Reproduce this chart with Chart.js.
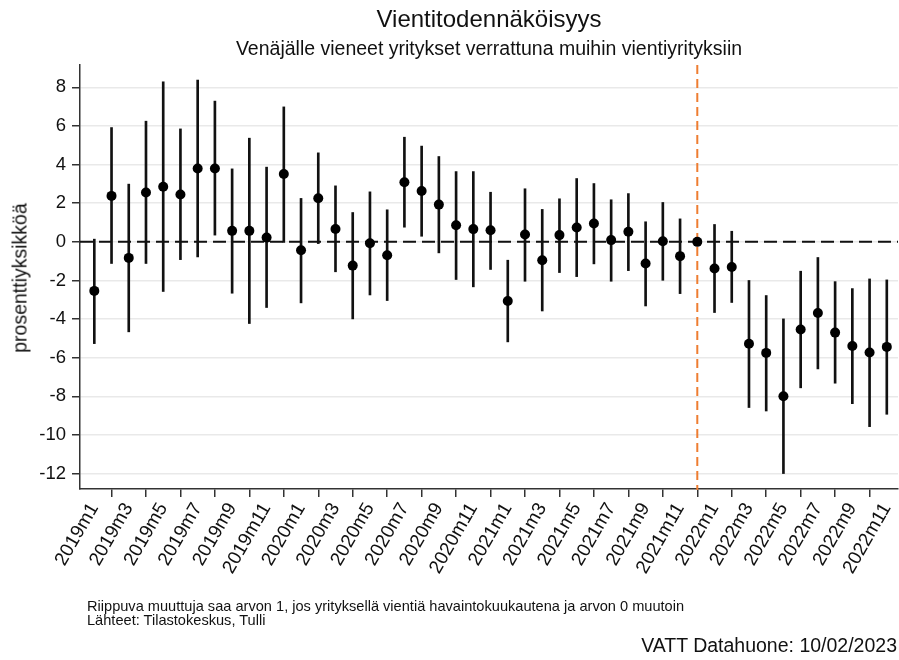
<!DOCTYPE html>
<html>
<head>
<meta charset="utf-8">
<script src="https://cdn.jsdelivr.net/npm/chart.js@4.4.1/dist/chart.umd.min.js"></script>
<style>
  html, body { margin: 0; padding: 0; background: #fff; }
  #wrap { position: relative; width: 899px; height: 660px; font-family: "Liberation Sans", Arial, sans-serif; color: #111; }
  canvas { position: absolute; left: 0; top: 0; }
  .t { position: absolute; white-space: nowrap; }
  #title { left: 489px; top: 19px; font-size: 24px; transform: translate(-50%, -50%); }
  #subtitle { left: 489px; top: 48px; font-size: 19.5px; transform: translate(-50%, -50%); }
  #ytitle { left: 20px; top: 278px; font-size: 19.5px; transform: translate(-50%, -50%); transform: translate(-50%, -50%) rotate(-90deg); }
  #note1 { left: 87px; top: 600px; font-size: 14.6px; line-height: 13.5px; }
  #vatt { right: 2px; top: 645px; font-size: 19.5px; transform: translateY(-50%); }
</style>
</head>
<body>
<div id="wrap">
  <canvas id="c" width="899" height="660"></canvas>
  <div class="t" id="title">Vientitodennäköisyys</div>
  <div class="t" id="subtitle">Venäjälle vieneet yritykset verrattuna muihin vientiyrityksiin</div>
  <div class="t" id="ytitle">prosenttiyksikköä</div>
  <div class="t" id="note1">Riippuva muuttuja saa arvon 1, jos yrityksellä vientiä havaintokuukautena ja arvon 0 muutoin<br>Lähteet: Tilastokeskus, Tulli</div>
  <div class="t" id="vatt">VATT Datahuone: 10/02/2023</div>
</div>
<script>
const months = [
  '2019m1','2019m2','2019m3','2019m4','2019m5','2019m6','2019m7','2019m8','2019m9','2019m10','2019m11','2019m12',
  '2020m1','2020m2','2020m3','2020m4','2020m5','2020m6','2020m7','2020m8','2020m9','2020m10','2020m11','2020m12',
  '2021m1','2021m2','2021m3','2021m4','2021m5','2021m6','2021m7','2021m8','2021m9','2021m10','2021m11','2021m12',
  '2022m1','2022m2','2022m3','2022m4','2022m5','2022m6','2022m7','2022m8','2022m9','2022m10','2022m11'
];
const estimate = [
  -2.54, 2.38, -0.83, 2.56, 2.85, 2.45, 3.80, 3.80, 0.57, 0.57, 0.22, 3.51,
  -0.43, 2.26, 0.67, -1.23, -0.07, -0.69, 3.09, 2.63, 1.93, 0.86, 0.66, 0.60,
  -3.06, 0.38, -0.95, 0.35, 0.74, 0.95, 0.09, 0.52, -1.12, 0.03, -0.74, 0.00,
  -1.38, -1.30, -5.28, -5.75, -8.00, -4.54, -3.68, -4.70, -5.39, -5.73, -5.44
];
const ciLow = [
  -5.27, -1.12, -4.66, -1.12, -2.57, -0.92, -0.78, 0.35, -2.66, -4.23, -3.40, -0.03,
  -3.16, -0.09, -1.55, -3.99, -2.75, -3.04, 0.76, 0.29, -0.57, -1.95, -2.33, -1.43,
  -5.18, -2.04, -3.58, -1.59, -1.80, -1.14, -2.04, -1.49, -3.32, -1.99, -2.68, null,
  -3.66, -3.14, -8.58, -8.76, -12.00, -7.56, -6.58, -7.32, -8.38, -9.57, -8.93
];
const ciHigh = [
  0.14, 5.92, 2.99, 6.25, 8.29, 5.85, 8.38, 7.29, 3.78, 5.37, 3.87, 6.99,
  2.25, 4.61, 2.90, 1.52, 2.59, 1.66, 5.42, 4.96, 4.42, 3.64, 3.64, 2.57,
  -0.95, 2.75, 1.68, 2.23, 3.28, 3.02, 2.18, 2.50, 1.04, 2.04, 1.19, null,
  0.90, 0.55, -2.00, -2.78, -3.99, -1.52, -0.81, -2.06, -2.42, -1.92, -1.97
];
const xTickIndex = [0,2,4,6,8,10,12,14,16,18,20,22,24,26,28,30,32,34,36,38,40,42,44,46];
const yTickValues = [-12,-10,-8,-6,-4,-2,0,2,4,6,8];
const referenceMonth = '2021m12';

const refIndex = months.indexOf(referenceMonth);

const refLines = {
  id: 'refLines',
  beforeDatasetsDraw(chart) {
    const {ctx, chartArea, scales} = chart;
    ctx.save();
    const y0 = scales.y.getPixelForValue(0);
    ctx.strokeStyle = '#111';
    ctx.lineWidth = 2;
    ctx.setLineDash([13, 6]);
    ctx.beginPath();
    ctx.moveTo(chartArea.left, y0);
    ctx.lineTo(chartArea.right, y0);
    ctx.stroke();
    const xr = scales.x.getPixelForValue(refIndex);
    ctx.strokeStyle = '#ee7d31';
    ctx.lineWidth = 2;
    ctx.setLineDash([9, 5]);
    ctx.beginPath();
    ctx.moveTo(xr, chartArea.top);
    ctx.lineTo(xr, chartArea.bottom + 1);
    ctx.stroke();
    ctx.restore();
  }
};

const barData = [];
months.forEach((m, i) => {
  if (ciLow[i] !== null && ciHigh[i] !== null) barData.push({x: i, y: [ciLow[i], ciHigh[i]]});
});
const pointData = estimate.map((v, i) => ({x: i, y: v}));

new Chart(document.getElementById('c'), {
  type: 'bar',
  data: {
    datasets: [
      {
        type: 'scatter',
        data: pointData,
        pointRadius: 5,
        pointHoverRadius: 5,
        backgroundColor: '#000',
        borderWidth: 0,
        order: 0
      },
      {
        type: 'bar',
        data: barData,
        backgroundColor: '#111',
        borderWidth: 0,
        barThickness: 2,
        order: 1
      }
    ]
  },
  options: {
    responsive: false,
    animation: false,
    events: [],
    layout: { autoPadding: false, padding: { top: 65, right: 1, left: 0, bottom: 0 } },
    plugins: { legend: { display: false }, tooltip: { enabled: false }, title: { display: false } },
    scales: {
      x: {
        type: 'linear',
        offset: false,
        min: -0.83,
        max: 46.65,
        afterBuildTicks: s => { s.ticks = xTickIndex.map(v => ({value: v})); },
        afterFit: s => { s.height = 171; s.paddingRight = 0; s.paddingLeft = 0; },
        ticks: {
          autoSkip: false,
          minRotation: 60,
          maxRotation: 60,
          color: '#111',
          font: { family: 'Liberation Sans', size: 19 },
          padding: 2,
          callback: v => months[v]
        },
        grid: { drawOnChartArea: false, tickLength: 8, tickColor: '#333', lineWidth: 1.5 },
        border: { color: '#333', width: 1.5 }
      },
      y: {
        type: 'linear',
        min: -12.8,
        max: 9.16,
        afterBuildTicks: s => { s.ticks = yTickValues.map(v => ({value: v})); },
        afterFit: s => { s.width = 80; s.paddingTop = 0; s.paddingBottom = 0; },
        ticks: {
          color: '#111',
          font: { family: 'Liberation Sans', size: 18.5 },
          padding: 6,
          callback: v => String(v)
        },
        grid: { color: '#e9e9e9', lineWidth: 1.5, tickLength: 8, tickColor: '#333' },
        border: { color: '#333', width: 1.5 }
      }
    }
  },
  plugins: [refLines]
});
</script>
</body>
</html>
